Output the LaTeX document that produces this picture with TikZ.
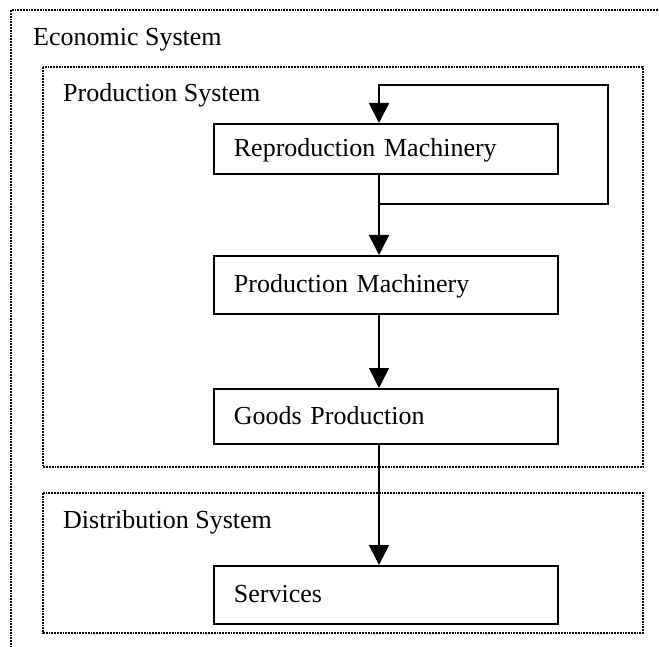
\documentclass[tikz,border=0pt]{standalone}
\usepackage{fontspec}
\setmainfont{Liberation Serif}
\usetikzlibrary{arrows.meta}
\begin{document}
\begin{tikzpicture}[x=1pt,y=-1pt,
  font=\fontsize{26}{31}\selectfont,
  sysbox/.style={draw, line width=1.8pt, dash pattern=on 1.8pt off 1.0pt},
  procbox/.style={draw, line width=1.8pt, anchor=north west, inner xsep=20pt, inner ysep=0pt,
     text height=21.8pt, text depth=5.7pt, align=left},
  syslabel/.style={anchor=base west, inner sep=0pt},
  flow/.style={line width=1.6pt, -{Triangle[width=20pt,length=20pt]}},
  link/.style={line width=1.6pt}]
\clip (0,0) rectangle (659,647);
\fill[white] (0,0) rectangle (659,647);
% outer economic system box (extends beyond the picture)
\draw[sysbox] (680,10) -- (11,10) -- (11,680) -- (680,680) -- cycle;
\node[syslabel] (eco) at (33,46) {Economic System};
% production system
\draw[sysbox] (43,67) rectangle (643,467);
\node[syslabel] (prodsys) at (63,102) {Production System};
% distribution system
\draw[sysbox] (43,493) rectangle (643,633);
\node[syslabel] (distsys) at (63,528) {Distribution System};
% process boxes
\node[procbox, text width=304pt, minimum height=50pt] (rm) at (213,123) {Reproduction Machinery};
\node[procbox, text width=304pt, minimum height=58pt] (pm) at (213,255) {Production Machinery};
\node[procbox, text width=304pt, minimum height=55pt] (gp) at (213,388) {Goods Production};
\node[procbox, text width=304pt, minimum height=58pt] (sv) at (213,565) {Services};
% connector column and loop points
\coordinate (col) at (379,0);
\coordinate (j) at (379,204);
\coordinate (lr) at (608,85);
\coordinate (ll) at (379,85);
\draw[flow] (rm.south -| col) -- (pm.north -| col);
\draw[flow] (pm.south -| col) -- (gp.north -| col);
\draw[flow] (gp.south -| col) -- (sv.north -| col);
\draw[flow] (j) -| (lr) -- (ll) -- (rm.north -| col);
\end{tikzpicture}
\end{document}
